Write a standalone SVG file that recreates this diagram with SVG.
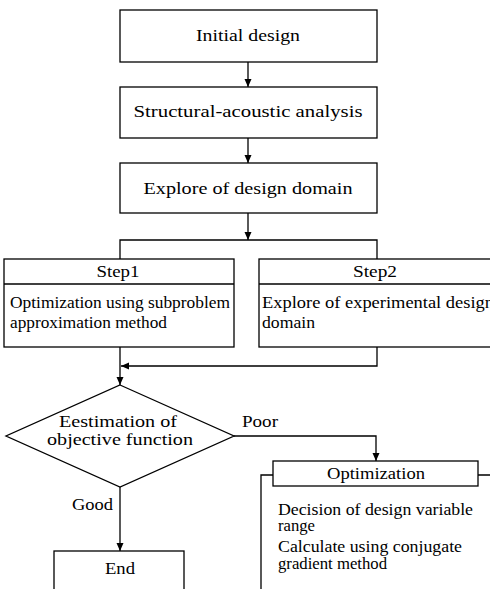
<svg xmlns="http://www.w3.org/2000/svg" width="490" height="589" viewBox="0 0 490 589">
<style>
.box{fill:#fff;stroke:#000;stroke-width:1.3}
.ln{fill:none;stroke:#000;stroke-width:1.3}
text{font-family:"Liberation Serif","Times New Roman",serif;fill:#000}
.t{font-size:17px;text-anchor:middle}
.b{font-size:16px}
.c{font-size:16px;text-anchor:middle}
</style>
<defs>
<marker id="ah" markerWidth="8" markerHeight="10" refX="8" refY="5" orient="auto" markerUnits="userSpaceOnUse">
<path d="M0,1.5 L8,5 L0,8.5 Z" fill="#000"/>
</marker>
</defs>
<rect width="490" height="589" fill="#fff"/>
<g id="connectors">
<line class="ln" x1="248" y1="62" x2="248" y2="87" marker-end="url(#ah)"/>
<line class="ln" x1="248" y1="138" x2="248" y2="163" marker-end="url(#ah)"/>
<line class="ln" x1="248" y1="213" x2="248" y2="240" marker-end="url(#ah)"/>
<path class="ln" d="M120,259 V240 H377 V259"/>
<line class="ln" x1="120" y1="347" x2="120" y2="385" marker-end="url(#ah)"/>
<path class="ln" d="M377,347 V366 H121" marker-end="url(#ah)"/>
<path class="ln" d="M234,436 H376 V461" marker-end="url(#ah)"/>
<line class="ln" x1="120" y1="487" x2="120" y2="551" marker-end="url(#ah)"/>
</g>
<g id="initial">
<rect class="box" x="120" y="10" width="257" height="52"/>
<text class="t" x="248" y="41" textLength="104" lengthAdjust="spacingAndGlyphs">Initial design</text>
</g>
<g id="analysis">
<rect class="box" x="120" y="87" width="257" height="51"/>
<text class="t" x="248" y="117" textLength="229" lengthAdjust="spacingAndGlyphs">Structural-acoustic analysis</text>
</g>
<g id="explore">
<rect class="box" x="120" y="163" width="257" height="50"/>
<text class="t" x="248" y="194" textLength="209" lengthAdjust="spacingAndGlyphs">Explore of design domain</text>
</g>
<g id="step1">
<rect class="box" x="4" y="259" width="230" height="88"/>
<line class="ln" x1="4" y1="284" x2="234" y2="284"/>
<text class="c" x="118" y="277" textLength="43" lengthAdjust="spacingAndGlyphs">Step1</text>
<text class="b" x="10" y="308" textLength="220" lengthAdjust="spacingAndGlyphs">Optimization using subproblem</text>
<text class="b" x="10" y="328" textLength="157" lengthAdjust="spacingAndGlyphs">approximation method</text>
</g>
<g id="step2">
<rect class="box" x="259" y="259" width="240" height="88"/>
<line class="ln" x1="259" y1="284" x2="499" y2="284"/>
<text class="c" x="375" y="277" textLength="44" lengthAdjust="spacingAndGlyphs">Step2</text>
<text class="b" x="262" y="308" textLength="232" lengthAdjust="spacingAndGlyphs">Explore of experimental design</text>
<text class="b" x="262" y="328" textLength="53" lengthAdjust="spacingAndGlyphs">domain</text>
</g>
<g id="decision">
<polygon class="box" points="120,385 234,436 120,487 6,436"/>
<text class="c" x="118" y="427" textLength="118" lengthAdjust="spacingAndGlyphs">Eestimation of</text>
<text class="c" x="120" y="445" textLength="146" lengthAdjust="spacingAndGlyphs">objective function</text>
</g>
<g id="labels">
<text class="b" x="242" y="427" textLength="36" lengthAdjust="spacingAndGlyphs">Poor</text>
<text class="b" x="72" y="510" textLength="41" lengthAdjust="spacingAndGlyphs">Good</text>
</g>
<g id="end">
<rect class="box" x="54" y="551" width="130" height="50"/>
<text class="c" x="120" y="574" textLength="30" lengthAdjust="spacingAndGlyphs">End</text>
</g>
<g id="optimization">
<path class="ln" d="M273,475 H261 V592 M478,475 H492"/>
<rect class="box" x="273" y="461" width="205" height="25"/>
<text class="c" x="376" y="479" textLength="98" lengthAdjust="spacingAndGlyphs">Optimization</text>
<text class="b" x="278" y="515" textLength="195" lengthAdjust="spacingAndGlyphs">Decision of design variable</text>
<text class="b" x="278" y="531" textLength="37" lengthAdjust="spacingAndGlyphs">range</text>
<text class="b" x="278" y="552" textLength="184" lengthAdjust="spacingAndGlyphs">Calculate using conjugate</text>
<text class="b" x="278" y="569" textLength="109" lengthAdjust="spacingAndGlyphs">gradient method</text>
</g>
</svg>
